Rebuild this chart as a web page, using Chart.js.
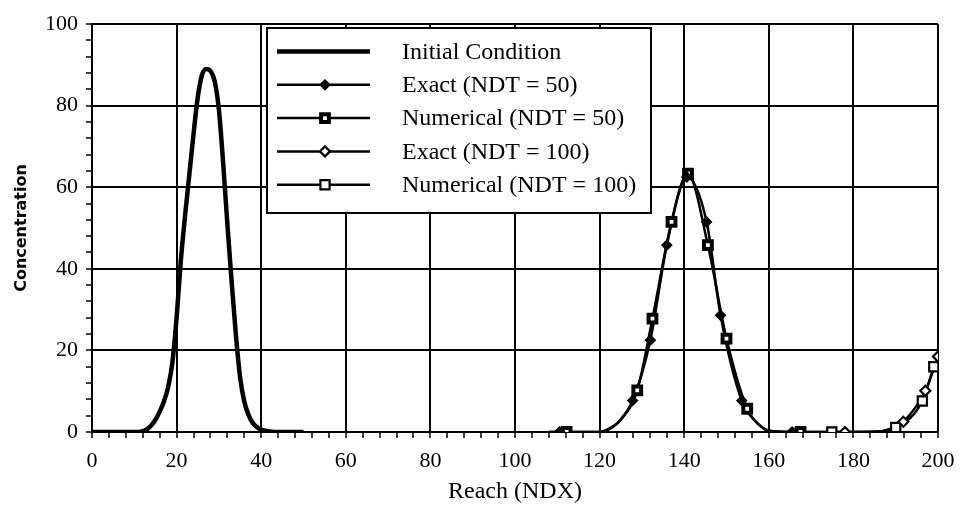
<!DOCTYPE html>
<html>
<head>
<meta charset="utf-8">
<script src="https://cdn.jsdelivr.net/npm/chart.js@4.4.0/dist/chart.umd.min.js"></script>
<style>
  html, body { margin: 0; padding: 0; background: #fff; }
</style>
</head>
<body>
<canvas id="chart" width="967" height="506"></canvas>
<script>
// initial condition (thick curve)
const initialX = [0,1,2,3,4,5,6,7,8,9,10,11,12,13,14,15,16,17,18,19,20,21,22,23,24,25,
  26,27,28,29,30,31,32,33,34,35,36,37,38,39,40,41,42,43,44,45,46,47,48,49,50];
const initialY = [0,0,0,0,0,0,0,0,0,0,0,0,0.2,0.7,1.6,3,5,7.5,11,17,28,42,53,63,73,82,
  87.5,89,88.5,86,79,66,51,37,24,13.5,7.5,4.2,2.2,1.2,0.6,0.3,0.1,0,0,0,0,0,0,0,0];

// exact, NDT = 50
const exact50LineX = [108, 110.5, 120, 122, 124.5, 127.8, 132, 135.9, 140.6, 145.3, 148.6, 153.6, 157, 160, 165.5, 172];
const exact50LineY = [0, 0, 0, 0.7, 2.5, 7.7, 22.5, 45.8, 62.5, 51.5, 28.6, 7.7, 2.5, 0.3, 0, 0];
const exact50MarkX = [110.5, 127.8, 132, 135.9, 140.6, 145.3, 148.6, 153.6, 165.5];
const exact50MarkY = [0, 7.7, 22.5, 45.8, 62.5, 51.5, 28.6, 7.7, 0];

// numerical, NDT = 50
const num50LineX = [108, 112.2, 120, 122, 125, 128.9, 132.5, 137, 140.9, 145.6, 150, 154.9, 158, 161, 167.5, 172];
const num50LineY = [0, 0, 0, 0.5, 3, 10.2, 27.8, 51.5, 63.3, 45.8, 22.9, 5.7, 1.5, 0.2, 0, 0];
const num50MarkX = [112.2, 128.9, 132.5, 137, 140.9, 145.6, 150, 154.9, 167.5];
const num50MarkY = [0, 10.2, 27.8, 51.5, 63.3, 45.8, 22.9, 5.7, 0];

// exact, NDT = 100
const exact100LineX = [172, 178, 185, 188.5, 191.8, 197, 200];
const exact100LineY = [0, 0, 0, 0.7, 2.5, 10.1, 18.5];
const exact100MarkX = [178, 191.8, 197, 200];
const exact100MarkY = [0, 2.5, 10.1, 18.5];

// numerical, NDT = 100
const num100LineX = [172, 174.9, 185, 190, 196.3, 199];
const num100LineY = [0, 0, 0.1, 1.1, 7.6, 16];
const num100MarkX = [174.9, 190, 196.3, 199];
const num100MarkY = [0, 1.1, 7.6, 16];

const xTicks = [0, 20, 40, 60, 80, 100, 120, 140, 160, 180, 200];
const yTicks = [0, 20, 40, 60, 80, 100];

const labels = ['Initial Condition', 'Exact (NDT = 50)', 'Numerical (NDT = 50)',
  'Exact (NDT = 100)', 'Numerical (NDT = 100)'];

function pts(xs, ys) {
  return xs.map((x, i) => ({ x: x, y: ys[i] }));
}

function lineSet(label, xs, ys, width) {
  return {
    label: label,
    data: pts(xs, ys),
    borderColor: '#000',
    borderWidth: width,
    pointRadius: 0,
    fill: false,
    cubicInterpolationMode: 'monotone',
    order: 2
  };
}

function markSet(label, xs, ys, style, radius, bw, fillCol) {
  return {
    label: label,
    data: pts(xs, ys),
    showLine: false,
    pointStyle: style,
    pointRadius: radius,
    pointBorderWidth: bw,
    pointBackgroundColor: fillCol,
    pointBorderColor: '#000',
    order: 1
  };
}

const datasets = [
  lineSet(labels[0], initialX, initialY, 4.5),
  lineSet(labels[1], exact50LineX, exact50LineY, 2.5),
  lineSet(labels[2], num50LineX, num50LineY, 2.5),
  lineSet(labels[3], exact100LineX, exact100LineY, 2.5),
  lineSet(labels[4], num100LineX, num100LineY, 2.5),
  markSet(labels[1], exact50MarkX, exact50MarkY, 'rectRot', 4.5, 2, '#000'),
  markSet(labels[2], num50MarkX, num50MarkY, 'rect', 5.5, 4, '#fff'),
  markSet(labels[3], exact100MarkX, exact100MarkY, 'rectRot', 5, 2.2, '#fff'),
  markSet(labels[4], num100MarkX, num100MarkY, 'rect', 6.5, 2.2, '#fff')
];

// line dataset index, marker dataset index
const legendRows = [[0, null], [1, 5], [2, 6], [3, 7], [4, 8]];

const boxLegend = {
  id: 'boxLegend',
  afterDatasetsDraw(chart) {
    const ctx = chart.ctx;
    const left = 267, top = 28, w = 384, h = 185;
    ctx.save();
    ctx.fillStyle = '#fff';
    ctx.fillRect(left, top, w, h);
    ctx.lineWidth = 2;
    ctx.strokeStyle = '#000';
    ctx.strokeRect(left, top, w, h);
    ctx.font = '24px "Liberation Serif"';
    ctx.textBaseline = 'middle';
    legendRows.forEach((row, i) => {
      const y = top + 23.5 + i * 33.3;
      const ln = chart.data.datasets[row[0]];
      ctx.strokeStyle = '#000';
      ctx.lineWidth = ln.borderWidth;
      ctx.beginPath();
      ctx.moveTo(left + 10, y);
      ctx.lineTo(left + 103, y);
      ctx.stroke();
      if (row[1] !== null) {
        const m = chart.data.datasets[row[1]];
        ctx.fillStyle = m.pointBackgroundColor;
        ctx.strokeStyle = m.pointBorderColor;
        ctx.lineWidth = m.pointBorderWidth;
        Chart.helpers.drawPoint(ctx, {
          pointStyle: m.pointStyle, radius: m.pointRadius,
          borderWidth: m.pointBorderWidth, rotation: 0
        }, left + 58, y);
      }
      ctx.fillStyle = '#000';
      ctx.fillText(ln.label, left + 135, y + 1);
    });
    ctx.restore();
  }
};

function major(list) {
  return (c) => (c.tick && list.includes(Math.round(c.tick.value)) ? '#000' : 'rgba(0,0,0,0)');
}

Chart.defaults.font.family = '"Liberation Serif"';
Chart.defaults.color = '#000';

new Chart(document.getElementById('chart').getContext('2d'), {
  type: 'line',
  data: { datasets: datasets },
  plugins: [boxLegend],
  options: {
    responsive: false,
    animation: false,
    events: [],
    layout: { padding: { top: 24, right: 29, left: 0, bottom: 0 } },
    plugins: { legend: { display: false }, tooltip: { enabled: false } },
    scales: {
      x: {
        type: 'linear',
        min: 0,
        max: 200,
        afterFit: (s) => { s.height = 74; },
        ticks: {
          stepSize: 4,
          autoSkip: false,
          maxRotation: 0,
          padding: 10,
          font: { size: 22 },
          callback: (v) => (xTicks.includes(Math.round(v)) ? String(Math.round(v)) : '')
        },
        grid: { color: major(xTicks), lineWidth: 2, tickColor: '#000', tickLength: 6, tickWidth: 1.5 },
        border: { color: '#000', width: 2 },
        title: { display: true, text: 'Reach (NDX)', font: { size: 24 }, padding: { top: 0, bottom: 0 } }
      },
      y: {
        min: 0,
        max: 100,
        afterFit: (s) => { s.width = 92; },
        ticks: {
          stepSize: 4,
          autoSkip: false,
          padding: 8,
          font: { size: 22 },
          callback: (v) => (yTicks.includes(Math.round(v)) ? String(Math.round(v)) : '')
        },
        grid: { color: major(yTicks), lineWidth: 2, tickColor: '#000', tickLength: 6, tickWidth: 1.5 },
        border: { color: '#000', width: 2 },
        title: {
          display: true, text: 'Concentration',
          font: { family: '"DejaVu Sans"', size: 16, weight: 'bold' },
          padding: { top: 12, bottom: 0 }
        }
      }
    }
  }
});
</script>
</body>
</html>
